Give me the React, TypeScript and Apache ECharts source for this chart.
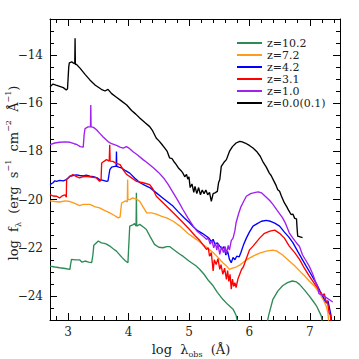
import React, { useEffect, useRef } from "react";
import * as echarts from "echarts";

const seriesNames = ["z=10.2", "z=7.2", "z=4.2", "z=3.1", "z=1.0", "z=0.0(0.1)"];
const seriesColors = ["#2e8b57", "#ff9a1a", "#0000ff", "#ff0000", "#a020f0", "#000000"];

const xMajor = [3, 4, 5, 6, 7];
const xMinor = [2.8, 3.0, 3.2, 3.4, 3.6, 3.8, 4.0, 4.2, 4.4, 4.6, 4.8, 5.0, 5.2, 5.4, 5.6, 5.8, 6.0, 6.2, 6.4, 6.6, 6.8, 7.0, 7.2, 7.4];
const yMajor = [-24, -22, -20, -18, -16, -14];
const yMinor = [-24.5, -24, -23.5, -23, -22.5, -22, -21.5, -21, -20.5, -20, -19.5, -19, -18.5, -18, -17.5, -17, -16.5, -16, -15.5, -15, -14.5, -14, -13.5, -13];

const z10a = [[2.70,-22.76],[2.78,-22.8],[2.86,-22.83],[2.95,-22.86],[3.03,-22.9],[3.04,-22.7],[3.056,-22.48],[3.12,-22.5],[3.19,-22.5],[3.23,-22.6],[3.28,-22.55],[3.34,-22.6],[3.39,-22.62],[3.41,-22.3],[3.425,-21.9],[3.5,-21.72],[3.55,-21.8],[3.6,-21.82],[3.635,-21.85],[3.69,-21.93],[3.75,-22.05],[3.8,-22.14],[3.89,-22.4],[3.95,-22.55],[3.99,-22.62],[4.0,-22.1],[4.02,-21.1],[4.07,-21.05],[4.1,-21.0],[4.125,-21.1],[4.13,-19.72],[4.135,-21.1],[4.185,-21.03],[4.25,-21.15],[4.295,-21.24],[4.36,-21.55],[4.43,-21.86],[4.5,-21.98],[4.57,-22.0],[4.63,-21.95],[4.68,-21.95],[4.76,-22.1],[4.85,-22.27],[4.9,-22.35],[5.0,-22.55],[5.12,-22.76],[5.18,-22.9],[5.25,-23.1],[5.32,-23.35],[5.4,-23.58],[5.47,-23.85],[5.56,-24.14],[5.64,-24.35],[5.73,-24.55],[5.78,-24.8],[5.82,-25.3]];
const z10b = [[6.28,-25.3],[6.32,-24.8],[6.39,-24.14],[6.47,-23.8],[6.55,-23.58],[6.63,-23.45],[6.71,-23.38],[6.78,-23.42],[6.83,-23.52],[6.91,-23.75],[6.99,-24.0],[7.05,-24.2],[7.11,-24.41],[7.19,-24.83],[7.22,-25.3]];

const z7 = [[2.70,-20.05],[2.78,-20.08],[2.86,-20.1],[2.95,-20.05],[3.03,-20.08],[3.1,-20.15],[3.19,-20.25],[3.25,-20.2],[3.3,-20.2],[3.36,-20.2],[3.45,-20.3],[3.52,-20.34],[3.6,-20.45],[3.69,-20.55],[3.76,-20.65],[3.83,-20.76],[3.86,-20.72],[3.885,-20.14],[3.95,-20.05],[3.98,-20.1],[3.985,-19.17],[3.99,-20.0],[4.02,-20.0],[4.07,-19.93],[4.13,-19.98],[4.185,-20.07],[4.24,-20.3],[4.3,-20.55],[4.38,-20.55],[4.46,-20.6],[4.55,-20.7],[4.63,-20.76],[4.74,-20.9],[4.85,-21.1],[4.98,-21.4],[5.12,-21.65],[5.25,-21.9],[5.4,-22.2],[5.48,-22.4],[5.56,-22.62],[5.62,-22.75],[5.67,-22.9],[5.72,-22.85],[5.78,-22.8],[5.84,-22.72],[5.89,-22.62],[5.95,-22.5],[6.06,-22.35],[6.17,-22.22],[6.28,-22.14],[6.38,-22.1],[6.45,-22.13],[6.55,-22.3],[6.66,-22.55],[6.75,-22.75],[6.83,-22.96],[6.91,-23.15],[6.99,-23.38],[7.08,-23.6],[7.155,-23.86],[7.22,-24.15],[7.27,-24.41],[7.3,-24.7],[7.32,-25.3]];

const z4 = [[2.70,-19.38],[2.75,-19.3],[2.78,-19.22],[2.81,-19.24],[2.86,-19.2],[2.92,-19.22],[2.97,-19.17],[3.0,-19.1],[3.03,-19.03],[3.08,-19.0],[3.14,-18.97],[3.19,-19.0],[3.25,-19.02],[3.3,-18.98],[3.36,-19.03],[3.42,-19.05],[3.48,-19.1],[3.52,-19.17],[3.58,-19.2],[3.64,-19.24],[3.66,-19.22],[3.69,-18.76],[3.72,-18.65],[3.77,-18.62],[3.795,-18.62],[3.80,-18.0],[3.805,-18.62],[3.84,-18.65],[3.88,-18.68],[3.95,-18.8],[4.02,-18.9],[4.1,-19.1],[4.19,-19.3],[4.28,-19.42],[4.35,-19.5],[4.46,-19.72],[4.55,-19.9],[4.65,-20.1],[4.74,-20.28],[4.82,-20.5],[4.92,-20.75],[5.01,-20.96],[5.08,-21.15],[5.15,-21.3],[5.22,-21.4],[5.29,-21.52],[5.33,-21.6],[5.37,-21.75],[5.4,-21.65],[5.43,-21.85],[5.47,-21.8],[5.51,-21.93],[5.55,-22.05],[5.58,-21.95],[5.61,-22.3],[5.64,-22.15],[5.67,-22.48],[5.7,-22.62],[5.73,-22.4],[5.76,-22.5],[5.79,-22.35],[5.83,-22.38],[5.86,-22.2],[5.9,-21.9],[5.95,-21.6],[6.0,-21.35],[6.06,-21.1],[6.13,-21.0],[6.2,-20.9],[6.28,-20.86],[6.35,-20.9],[6.42,-20.98],[6.5,-21.1],[6.58,-21.35],[6.65,-21.55],[6.72,-21.79],[6.8,-22.15],[6.88,-22.5],[6.94,-22.76],[7.02,-23.1],[7.1,-23.45],[7.17,-23.8],[7.24,-24.14],[7.28,-24.3],[7.3,-24.2],[7.33,-24.55],[7.35,-24.8],[7.37,-25.3]];

const z3 = [[2.70,-19.79],[2.75,-19.85],[2.81,-19.86],[2.86,-19.93],[2.9,-19.85],[2.95,-19.8],[2.97,-19.9],[2.975,-19.17],[3.03,-19.03],[3.08,-18.96],[3.14,-19.05],[3.19,-19.1],[3.25,-19.05],[3.3,-19.03],[3.38,-19.06],[3.47,-19.1],[3.52,-19.24],[3.545,-19.2],[3.555,-18.48],[3.6,-18.4],[3.635,-18.34],[3.68,-18.4],[3.689,-17.72],[3.695,-18.4],[3.74,-18.41],[3.8,-18.5],[3.86,-18.55],[3.92,-18.8],[3.97,-18.96],[4.05,-19.1],[4.13,-19.24],[4.24,-19.3],[4.35,-19.38],[4.4,-19.55],[4.46,-19.86],[4.6,-20.2],[4.74,-20.55],[4.88,-20.9],[5.01,-21.24],[5.1,-21.5],[5.18,-21.7],[5.24,-21.9],[5.29,-22.07],[5.32,-22.0],[5.34,-22.35],[5.37,-22.2],[5.4,-22.96],[5.42,-22.5],[5.45,-22.7],[5.48,-22.45],[5.51,-22.9],[5.53,-22.7],[5.56,-23.1],[5.59,-22.85],[5.62,-23.31],[5.64,-22.95],[5.66,-23.4],[5.68,-23.1],[5.70,-23.72],[5.72,-23.3],[5.74,-23.6],[5.76,-23.45],[5.78,-23.65],[5.81,-23.3],[5.84,-23.1],[5.87,-22.9],[5.9,-22.8],[5.95,-22.45],[6.0,-22.1],[6.06,-21.93],[6.17,-21.6],[6.25,-21.4],[6.34,-21.31],[6.42,-21.27],[6.5,-21.4],[6.58,-21.6],[6.66,-21.93],[6.75,-22.2],[6.83,-22.48],[6.9,-22.8],[6.99,-23.17],[7.08,-23.5],[7.16,-23.79],[7.22,-24.0],[7.24,-23.9],[7.27,-24.27],[7.29,-24.2],[7.32,-24.69],[7.34,-24.8],[7.36,-25.3]];

const z1 = [[2.70,-17.72],[2.78,-17.65],[2.86,-17.62],[2.95,-17.6],[3.03,-17.62],[3.1,-17.68],[3.15,-17.72],[3.2,-17.8],[3.25,-17.82],[3.265,-17.3],[3.28,-17.05],[3.33,-16.98],[3.37,-16.98],[3.375,-16.07],[3.38,-16.98],[3.42,-17.0],[3.47,-17.1],[3.52,-17.24],[3.58,-17.4],[3.66,-17.59],[3.72,-17.68],[3.8,-17.75],[3.86,-17.82],[3.91,-17.86],[3.965,-17.8],[4.0,-17.85],[4.07,-18.0],[4.15,-18.15],[4.24,-18.34],[4.3,-18.45],[4.35,-18.55],[4.42,-18.7],[4.5,-18.88],[4.58,-19.1],[4.65,-19.35],[4.74,-19.72],[4.82,-20.05],[4.9,-20.41],[4.98,-20.75],[5.07,-21.1],[5.13,-21.3],[5.2,-21.45],[5.25,-21.55],[5.29,-21.65],[5.32,-21.6],[5.35,-21.85],[5.38,-21.7],[5.41,-22.0],[5.44,-21.8],[5.46,-22.1],[5.48,-21.85],[5.51,-22.27],[5.54,-21.95],[5.57,-22.2],[5.6,-21.95],[5.62,-22.25],[5.65,-21.9],[5.67,-22.1],[5.7,-21.7],[5.73,-21.6],[5.76,-21.3],[5.78,-20.96],[5.82,-20.6],[5.86,-20.3],[5.9,-20.1],[5.95,-19.86],[6.02,-19.75],[6.1,-19.7],[6.15,-19.68],[6.2,-19.72],[6.28,-19.9],[6.34,-20.05],[6.39,-20.2],[6.46,-20.45],[6.55,-20.76],[6.6,-21.0],[6.66,-21.38],[6.72,-21.6],[6.78,-21.8],[6.83,-21.95],[6.88,-22.3],[6.94,-22.55],[6.99,-22.76],[7.05,-23.1],[7.1,-23.45],[7.13,-23.6],[7.15,-23.9],[7.2,-23.95],[7.26,-24.05],[7.32,-24.15],[7.38,-24.25]];

const z0 = [[2.70,-15.31],[2.75,-15.2],[2.80,-15.25],[2.86,-15.3],[2.92,-15.35],[2.97,-15.45],[2.99,-15.4],[3.01,-14.5],[3.02,-14.32],[3.06,-14.28],[3.09,-14.33],[3.11,-14.35],[3.115,-13.3],[3.12,-14.38],[3.14,-14.39],[3.2,-14.55],[3.28,-14.8],[3.36,-15.03],[3.45,-15.25],[3.55,-15.42],[3.61,-15.49],[3.66,-15.42],[3.72,-15.6],[3.8,-15.75],[3.88,-15.9],[3.97,-16.07],[4.05,-16.3],[4.12,-16.45],[4.19,-16.62],[4.27,-16.8],[4.35,-16.97],[4.4,-17.15],[4.46,-17.45],[4.5,-17.55],[4.55,-17.7],[4.6,-17.86],[4.64,-18.0],[4.68,-18.27],[4.72,-18.3],[4.76,-18.45],[4.79,-18.55],[4.83,-18.7],[4.87,-18.8],[4.9,-18.9],[4.93,-19.05],[4.96,-18.95],[4.98,-19.15],[5.0,-19.05],[5.02,-19.5],[5.05,-19.35],[5.08,-19.7],[5.1,-19.45],[5.13,-19.75],[5.16,-19.5],[5.19,-19.8],[5.22,-19.6],[5.25,-19.75],[5.28,-19.6],[5.31,-19.8],[5.34,-19.7],[5.37,-20.07],[5.40,-19.75],[5.43,-19.72],[5.47,-19.66],[5.49,-19.3],[5.51,-19.17],[5.535,-18.62],[5.58,-18.45],[5.62,-18.34],[5.67,-18.0],[5.72,-17.8],[5.78,-17.65],[5.84,-17.58],[5.87,-17.59],[5.93,-17.65],[6.0,-17.75],[6.06,-17.86],[6.12,-18.0],[6.18,-18.2],[6.22,-18.41],[6.28,-18.65],[6.33,-18.9],[6.36,-19.0],[6.4,-19.2],[6.44,-19.4],[6.47,-19.59],[6.5,-19.65],[6.53,-19.85],[6.58,-20.14],[6.62,-20.3],[6.65,-20.45],[6.69,-20.62],[6.72,-20.6],[6.75,-20.78],[6.78,-20.8],[6.79,-21.2],[6.80,-21.52],[6.88,-21.58]];

const FONT = "DejaVu Serif";
const fmt = (v: number) => (v < 0 ? "\u2212" + Math.abs(v) : String(v));

export default function App() {
  const ref = useRef<HTMLDivElement>(null);
  useEffect(() => {
    if (!ref.current) return;
    const chart = echarts.init(ref.current, null, { renderer: "svg" });
    const lineAxis = { show: true, lineStyle: { color: "#000", width: 1 } };
    const mk = (name: string, data: number[][], color: string) => ({
      name,
      type: "line",
      data,
      color,
      showSymbol: false,
      symbol: "none",
      lineStyle: { color, width: 1.35 },
      xAxisIndex: 0,
      yAxisIndex: 0,
      clip: true,
    });
    const xBase = { type: "value", min: 2.7, max: 7.5, splitLine: { show: false } };
    const yBase = { type: "value", min: -25, max: -12.5, splitLine: { show: false } };
    chart.setOption({
      animation: false,
      backgroundColor: "#fff",
      grid: { left: 50, right: 19, top: 19, bottom: 39, containLabel: false },
      legend: {
        orient: "vertical",
        left: 237,
        top: 37,
        padding: 0,
        itemGap: 0,
        itemWidth: 25,
        itemHeight: 2,
        itemTextGap: 6,
        icon: "rect",
        data: seriesNames,
        textStyle: { fontFamily: FONT, fontSize: 11, lineHeight: 12, color: "#222" },
      },
      xAxis: [
        { ...xBase, position: "bottom", axisLine: lineAxis,
          axisTick: { show: true, inside: true, length: 7, customValues: xMajor, lineStyle: { color: "#000" } },
          axisLabel: { show: true, customValues: xMajor, margin: 6, formatter: fmt, fontFamily: FONT, fontSize: 12, color: "#222" } },
        { ...xBase, position: "bottom", axisLine: { show: false },
          axisTick: { show: true, inside: true, length: 4, customValues: xMinor, lineStyle: { color: "#000" } },
          axisLabel: { show: false } },
        { ...xBase, position: "top", axisLine: lineAxis,
          axisTick: { show: true, inside: true, length: 7, customValues: xMajor, lineStyle: { color: "#000" } },
          axisLabel: { show: false } },
        { ...xBase, position: "top", axisLine: { show: false },
          axisTick: { show: true, inside: true, length: 4, customValues: xMinor, lineStyle: { color: "#000" } },
          axisLabel: { show: false } },
      ],
      yAxis: [
        { ...yBase, position: "left", axisLine: lineAxis,
          axisTick: { show: true, inside: true, length: 7, customValues: yMajor, lineStyle: { color: "#000" } },
          axisLabel: { show: true, customValues: yMajor, margin: 7, formatter: fmt, fontFamily: FONT, fontSize: 12, color: "#222" } },
        { ...yBase, position: "left", axisLine: { show: false },
          axisTick: { show: true, inside: true, length: 4, customValues: yMinor, lineStyle: { color: "#000" } },
          axisLabel: { show: false } },
        { ...yBase, position: "right", axisLine: lineAxis,
          axisTick: { show: true, inside: true, length: 7, customValues: yMajor, lineStyle: { color: "#000" } },
          axisLabel: { show: false } },
        { ...yBase, position: "right", axisLine: { show: false },
          axisTick: { show: true, inside: true, length: 4, customValues: yMinor, lineStyle: { color: "#000" } },
          axisLabel: { show: false } },
      ],
      graphic: [
        {
          type: "text",
          x: 191,
          y: 349,
          style: {
            text: "{a|log  λ}{s|obs}{a|  (Å)}",
            align: "center",
            verticalAlign: "middle",
            fill: "#222",
            rich: {
              a: { fontFamily: FONT, fontSize: 13, lineHeight: 18, verticalAlign: "middle", fill: "#222" },
              s: { fontFamily: FONT, fontSize: 8, lineHeight: 18, verticalAlign: "bottom", fill: "#222" },
            },
          },
        },
        {
          type: "text",
          x: 13,
          y: 173,
          rotation: Math.PI / 2,
          style: {
            text: "{a|log  f}{s|λ}{a|  (erg  s}{p|−1}{a|  cm}{p|−2}{a|  Å}{p|−1}{a|)}",
            align: "center",
            verticalAlign: "middle",
            fill: "#222",
            rich: {
              a: { fontFamily: FONT, fontSize: 13, lineHeight: 18, verticalAlign: "middle", fill: "#222" },
              s: { fontFamily: FONT, fontSize: 8, lineHeight: 18, verticalAlign: "bottom", fill: "#222" },
              p: { fontFamily: FONT, fontSize: 8, lineHeight: 18, verticalAlign: "top", fill: "#222" },
            },
          },
        },
      ],
      series: [
        mk(seriesNames[0], z10a, seriesColors[0]),
        mk(seriesNames[0], z10b, seriesColors[0]),
        mk(seriesNames[1], z7, seriesColors[1]),
        mk(seriesNames[2], z4, seriesColors[2]),
        mk(seriesNames[3], z3, seriesColors[3]),
        mk(seriesNames[4], z1, seriesColors[4]),
        mk(seriesNames[5], z0, seriesColors[5]),
      ],
    });
    return () => chart.dispose();
  }, []);
  return <div ref={ref} style={{ position: "fixed", left: 0, top: 0, width: 359, height: 359 }} />;
}
